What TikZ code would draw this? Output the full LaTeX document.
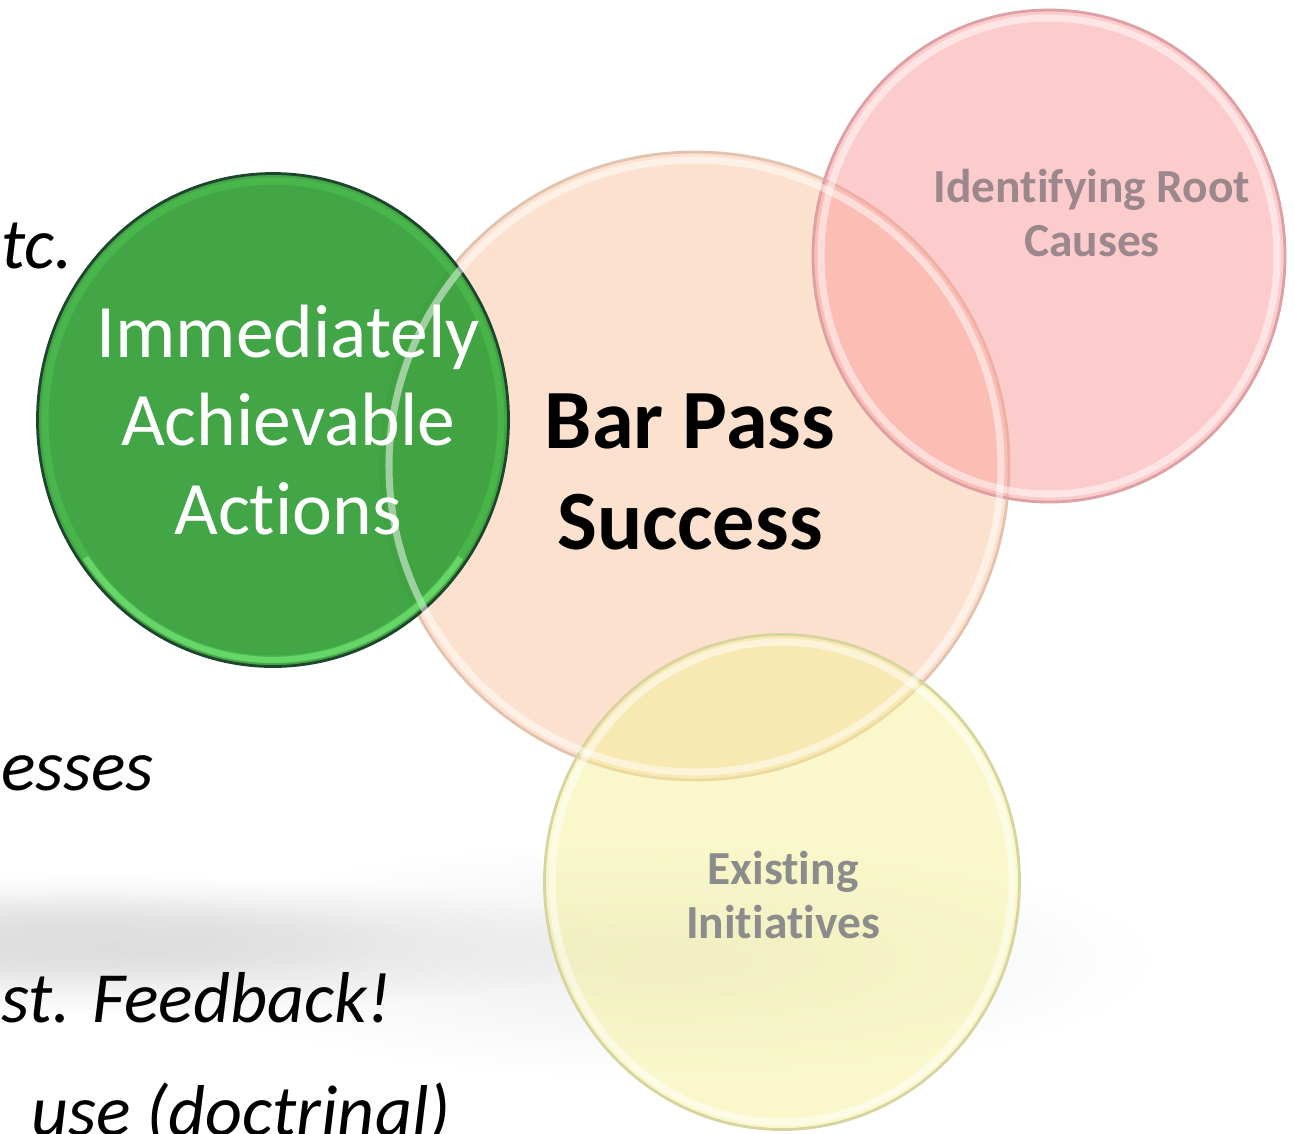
\documentclass[tikz,border=0pt]{standalone}
\usepackage{fontspec}
\setmainfont[Ligatures={NoCommon}]{Carlito}
\usetikzlibrary{positioning}
\usetikzlibrary{shapes.geometric}
\usetikzlibrary{fadings}

\definecolor{leafgreen}{RGB}{56,160,60}
\definecolor{leafedge}{RGB}{30,70,45}
\definecolor{peach}{RGB}{250,205,175}
\definecolor{peachedge}{RGB}{225,195,175}
\definecolor{rose}{RGB}{250,160,160}
\definecolor{roseedge}{RGB}{220,160,165}
\definecolor{lemon}{RGB}{245,242,150}
\definecolor{lemonedge}{RGB}{215,212,160}
\definecolor{mauvetext}{RGB}{155,135,140}
\definecolor{greytext}{RGB}{140,140,140}

\tikzfading[name=softshadow,inner color=transparent!0,outer color=transparent!100]

\begin{document}
\begin{tikzpicture}[semithick]
		\tikzstyle{bubble}=[ellipse,draw,inner sep=0pt,line width=0.8pt]
		\tikzstyle{side}=[anchor=base west,inner sep=0pt,font=\fontsize{20.5}{24}\selectfont\itshape]
		\tikzstyle{faded}=[align=center,font=\fontsize{13.5}{15.5}\selectfont\bfseries]
		\tikzstyle{rim}=[white,opacity=0.5,line width=2pt]
		
		\useasboundingbox (0,0) rectangle (12.95,-11.33);
		
		% shadow under the circles
		\fill[gray!14,path fading=softshadow] (6.6,-9.6) ellipse [x radius=5.0,y radius=1.2];
		\fill[gray!30,path fading=softshadow] (1.0,-9.45) ellipse [x radius=5.4,y radius=0.7];
		\fill[gray!25,path fading=softshadow] (0.6,-9.38) ellipse [x radius=3.4,y radius=0.45];
		
		% cut off slide text
		\node[side] (Etc)      at (0.00,-2.68)  {tc.};
		\node[side] (Weak)     at (0.00,-7.90)  {esses};
		\node[side] (Feedback) at (0.00,-10.22) {st. Feedback!};
		\node[side] (Use)      at (0.30,-11.35) {use (doctrinal)};
		
		\node[bubble,fill=peach,fill opacity=0.6,draw=peachedge,
		minimum width=6.28cm,minimum height=6.28cm]   (Success)     at (6.95,-4.66)  {};
		\node[bubble,fill=rose,fill opacity=0.55,draw=roseedge,
		minimum width=4.72cm,minimum height=4.92cm]   (Causes)      at (10.49,-2.56) {};
		\node[bubble,fill=lemon,fill opacity=0.5,draw=lemonedge,
		minimum width=4.75cm,minimum height=4.95cm]   (Initiatives) at (7.82,-8.82)  {};
		\node[bubble,fill=leafgreen,fill opacity=0.95,draw=leafedge,
		minimum width=4.71cm,minimum height=4.93cm]   (Actions)     at (2.73,-4.20)  {};
		
		% bevel rims
		\draw[rim] (Success.center) ellipse [x radius=3.06,y radius=3.06];
		\draw[rim] (Causes.center) ellipse [x radius=2.28,y radius=2.38];
		\draw[rim] (Initiatives.center) ellipse [x radius=2.30,y radius=2.40];
		\draw[rim,green!60!white,opacity=0.2] (Actions.center) ellipse [x radius=2.28,y radius=2.39];
		\draw[green!45!white,opacity=0.45,line width=1.8pt]
		(Actions.center) ++(215:2.29 and 2.40) arc [start angle=215,end angle=325,x radius=2.29,y radius=2.40];
		
		\node[align=center,font=\fontsize{24}{28.5}\selectfont\bfseries]
		(SuccessText) at (6.90,-4.72) {Bar Pass\\Success};
		\node[align=center,text=white,font=\fontsize{21.5}{25.3}\selectfont]
		(ActionsText) [right of=Actions,node distance=0.15cm] {Immediately\\Achievable\\Actions};
		\node[faded,text=mauvetext] (CausesText)      at (10.92,-2.13) {Identifying Root\\Causes};
		\node[faded,text=greytext]  (InitiativesText) at (7.83,-8.95)  {Existing\\Initiatives};
		\end{tikzpicture}
\end{document}
